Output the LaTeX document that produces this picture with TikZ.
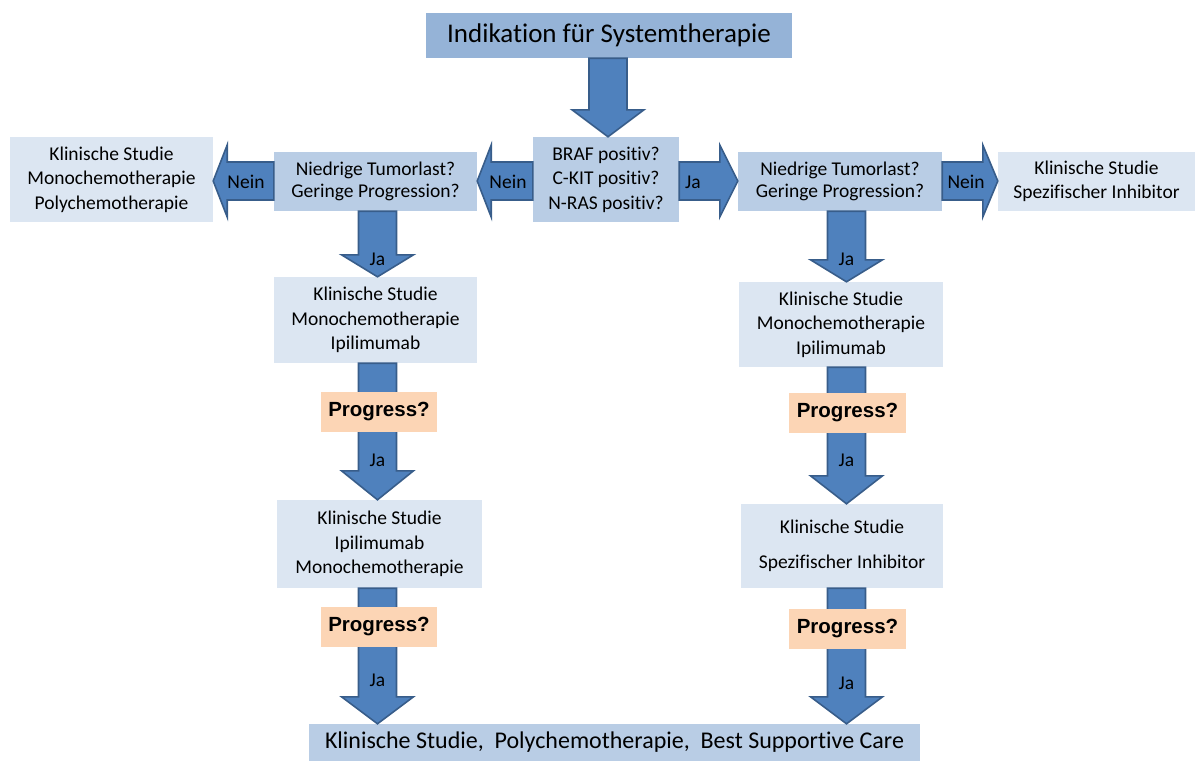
\documentclass[tikz,border=0pt]{standalone}
\usepackage{fontspec}
\setmainfont{Carlito}[Ligatures=NoCommon]
\newfontfamily\progfont{Liberation Sans}
\usetikzlibrary{calc}
\definecolor{topc}{HTML}{95B3D7}
\definecolor{midc}{HTML}{B9CDE5}
\definecolor{lightc}{HTML}{DCE6F2}
\definecolor{progc}{HTML}{FCD5B5}
\definecolor{arrf}{HTML}{4F81BD}
\definecolor{arrd}{HTML}{385D8A}
% down block arrow: #1 from node, #2 to node, #3 x centre, #4 head length
\newcommand\downarr[4]{%
  \draw[barrow] let \p1=(#1.south), \p2=(#2.north) in
    (#3pt-19pt,\y1) -- (#3pt+19pt,\y1) -- (#3pt+19pt,\y2+#4pt) -- (#3pt+36pt,\y2+#4pt)
    -- (#3pt,\y2) -- (#3pt-36pt,\y2+#4pt) -- (#3pt-19pt,\y2+#4pt) -- cycle;}
% left block arrow: #1 from node (its west), #2 to node (its east), #3 y centre, #4 head length
\newcommand\leftarr[4]{%
  \draw[barrow] let \p1=(#1.west), \p2=(#2.east) in
    (\x1,-#3pt+19pt) -- (\x2+#4pt,-#3pt+19pt) -- (\x2+#4pt,-#3pt+36pt) -- (\x2,-#3pt)
    -- (\x2+#4pt,-#3pt-36pt) -- (\x2+#4pt,-#3pt-19pt) -- (\x1,-#3pt-19pt) -- cycle;}
\newcommand\rightarr[4]{%
  \draw[barrow] let \p1=(#1.east), \p2=(#2.west) in
    (\x1,-#3pt+19pt) -- (\x2-#4pt,-#3pt+19pt) -- (\x2-#4pt,-#3pt+36pt) -- (\x2,-#3pt)
    -- (\x2-#4pt,-#3pt-36pt) -- (\x2-#4pt,-#3pt-19pt) -- (\x1,-#3pt-19pt) -- cycle;}
\begin{document}
\begin{tikzpicture}[x=1pt,y=-1pt,
  box/.style={inner sep=0pt, align=center, font=\fontsize{19.5}{24.5}\selectfont},
  topbox/.style={box, fill=topc},
  midbox/.style={box, fill=midc},
  lightbox/.style={box, fill=lightc},
  progbox/.style={inner sep=0pt, fill=progc, minimum width=116, minimum height=40,
    font=\progfont\bfseries\fontsize{20.5}{22}\selectfont},
  lbl/.style={inner sep=0pt, font=\fontsize{19.5}{22}\selectfont},
  barrow/.style={fill=arrf, draw=arrd, line width=1.6pt}]
\useasboundingbox (0,0) rectangle (1195,761);

% boxes
\node[topbox, minimum width=366, minimum height=45, font=\fontsize{27}{32}\selectfont] (top) at (609,35.5) {Indikation für Systemtherapie};
\node[midbox, minimum width=146, minimum height=85] (braf) at (606,179.5) {BRAF positiv?\\C-KIT positiv?\\N-RAS positiv?};
\node[midbox, minimum width=203, minimum height=59, font=\fontsize{19.5}{22.5}\selectfont] (lnie) at (375.5,181.5) {Niedrige Tumorlast?\\Geringe Progression?};
\node[lightbox, minimum width=203, minimum height=85] (lkli) at (111.5,179.5) {Klinische Studie\\Monochemotherapie\\Polychemotherapie};
\node[midbox, minimum width=204, minimum height=59, font=\fontsize{19.5}{22.5}\selectfont] (rnie) at (840,181.5) {Niedrige Tumorlast?\\Geringe Progression?};
\node[lightbox, minimum width=197, minimum height=59] (rkli) at (1096.5,181.5) {Klinische Studie\\Spezifischer Inhibitor};
\node[lightbox, minimum width=203, minimum height=86] (lbox2) at (375.5,320) {Klinische Studie\\Monochemotherapie\\Ipilimumab};
\node[lightbox, minimum width=205, minimum height=88] (lbox3) at (379.5,544) {Klinische Studie\\Ipilimumab\\Monochemotherapie};
\node[lightbox, minimum width=204, minimum height=85] (rbox2) at (841,324.5) {Klinische Studie\\Monochemotherapie\\Ipilimumab};
\node[lightbox, minimum width=202, minimum height=84] (rbox3) at (842,546) {Klinische Studie\\[11pt]Spezifischer Inhibitor};
\node[midbox, minimum width=611, minimum height=37, font=\fontsize{24}{28}\selectfont] (bottom) at (614.5,742.5) {Klinische Studie,\ \ Polychemotherapie,\ \ Best Supportive Care};

% block arrows
\downarr{top}{braf}{608}{27}
\leftarr{braf}{lnie}{181}{14}
\leftarr{lnie}{lkli}{181}{14}
\rightarr{braf}{rnie}{181}{18}
\rightarr{rnie}{rkli}{181}{15}
\downarr{lnie}{lbox2}{377.5}{22}
\downarr{lbox2}{lbox3}{377.5}{29}
\downarr{lbox3}{bottom}{377.5}{27}
\downarr{rnie}{rbox2}{846.5}{22}
\downarr{rbox2}{rbox3}{846.5}{28}
\downarr{rbox3}{bottom}{846.5}{27}

% progress boxes
\node[progbox] (lp1) at (379,412) {Progress?};
\node[progbox] (lp2) at (379,627) {Progress?};
\node[progbox, minimum width=117] (rp1) at (847.5,412.5) {Progress?};
\node[progbox, minimum width=117] (rp2) at (847.5,629) {Progress?};

% labels
\node[lbl] (nl1) at (508,182) {Nein};
\node[lbl] (nl2) at (246,182) {Nein};
\node[lbl] (jr) at (693,182) {Ja};
\node[lbl] (nr) at (966,182) {Nein};
\node[lbl] (jl1) at (377.5,259) {Ja};
\node[lbl] (jl2) at (377.5,460) {Ja};
\node[lbl] (jl3) at (377.5,680) {Ja};
\node[lbl] (jr1) at (846.5,259) {Ja};
\node[lbl] (jr2) at (846.5,460) {Ja};
\node[lbl] (jr3) at (846.5,683) {Ja};
\end{tikzpicture}
\end{document}
